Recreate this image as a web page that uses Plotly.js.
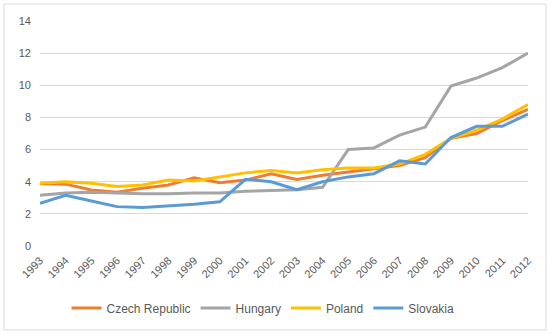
<!DOCTYPE html>
<html>
<head>
<meta charset="utf-8">
<script src="https://cdn.plot.ly/plotly-3.0.1.min.js"></script>
<style>html,body{margin:0;padding:0;background:#fff;}#chart{width:550px;height:335px;}</style>
</head>
<body>
<div id="chart"></div>
<script>
var years = ["1993","1994","1995","1996","1997","1998","1999","2000","2001","2002","2003","2004","2005","2006","2007","2008","2009","2010","2011","2012"];
var czechRepublic = [3.88,3.85,3.48,3.35,3.6,3.8,4.25,3.93,4.1,4.5,4.14,4.4,4.6,4.8,5.0,5.5,6.7,7.0,7.8,8.5];
var hungary = [3.15,3.3,3.35,3.3,3.25,3.25,3.3,3.3,3.4,3.45,3.5,3.65,6.0,6.1,6.9,7.4,9.95,10.45,11.1,12.0];
var poland = [3.9,4.0,3.9,3.7,3.8,4.1,4.05,4.3,4.55,4.7,4.55,4.75,4.85,4.85,5.1,5.7,6.7,7.2,7.9,8.8];
var slovakia = [2.65,3.15,2.8,2.45,2.4,2.5,2.6,2.75,4.15,4.0,3.5,4.0,4.3,4.5,5.3,5.1,6.75,7.45,7.45,8.2];
var seriesNames = ["Czech Republic","Hungary","Poland","Slovakia"];
var yTicks = [0,2,4,6,8,10,12,14];

var colors = ["#ED7D31","#A5A5A5","#FFC000","#5B9BD5"];
var data = [czechRepublic, hungary, poland, slovakia].map(function(v,i){
  return {x: years, y: v, type: "scatter", mode: "lines", name: seriesNames[i],
    line: {color: colors[i], width: 3}};
});
var layout = {
  width: 550, height: 335,
  margin: {l: 40, r: 22, t: 21, b: 89},
  paper_bgcolor: "#fff", plot_bgcolor: "#fff",
  font: {family: "'Liberation Sans', Arial, sans-serif", size: 11, color: "#595959"},
  xaxis: {type: "category", tickangle: -45, showgrid: false, zeroline: false,
    showline: false, ticks: "", ticklabelstandoff: 5, tickfont: {size: 11, color: "#595959"}},
  yaxis: {range: [0, 14], tickvals: yTicks, showgrid: true, gridcolor: "#D9D9D9",
    gridwidth: 1, zeroline: false, showline: false, ticks: "", ticklabelstandoff: 8,
    tickfont: {size: 11, color: "#595959"}},
  showlegend: true,
  legend: {orientation: "h", x: 0.457, xanchor: "center", y: -0.276, yanchor: "middle",
    font: {size: 12, color: "#595959"}, itemwidth: 30, tracegroupgap: 0},
  shapes: [{type: "rect", xref: "paper", yref: "paper", x0: -0.0738, x1: 1.0369,
    y0: -0.373, y1: 1.0756, line: {color: "#D9D9D9", width: 1}}]
};
Plotly.newPlot("chart", data, layout, {displayModeBar: false, staticPlot: true});
</script>
</body>
</html>
